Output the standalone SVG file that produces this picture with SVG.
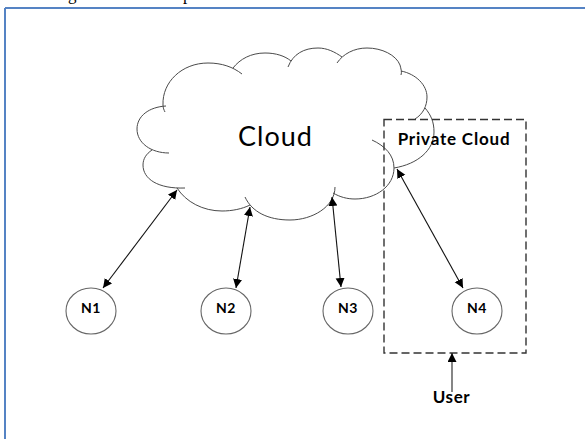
<svg xmlns="http://www.w3.org/2000/svg" width="585" height="439" viewBox="0 0 585 439">
<defs>
<marker id="a" markerUnits="userSpaceOnUse" markerWidth="10" markerHeight="10" refX="9" refY="4.5" orient="auto-start-reverse"><path d="M0 0L9 4.5L0 9Z" fill="#000"/></marker>
</defs>
<style>
.c{fill:none;stroke:#4a4a4a;stroke-width:1}
.n{fill:#fff;stroke:#666;stroke-width:1.1}
.l{stroke:#111;stroke-width:1.1;fill:none;marker-start:url(#a);marker-end:url(#a)}
text{font-family:Lato,"Open Sans",sans-serif;fill:#000}
.b{font-weight:700;font-size:14px;letter-spacing:.5px;text-anchor:middle}
.t{font-family:"Liberation Serif",serif;font-size:17px}
</style>
<rect width="585" height="439" fill="#fff"/>
<text class="t" x="68" y="0">g</text>
<text class="t" x="183" y="0">p</text>
<path d="M5 8H585M5 8V439" fill="none" stroke="#5583c4" stroke-width="2"/>
<g id="cloud">
<path class="c" d="M242 74C233 67 222 63 208 63C182 63 162 82 163 105C163 108 164 110 165 112"/>
<path class="c" d="M166 106C149 107 137 116 137 129C137 143 151 153 169 153"/>
<path class="c" d="M152 150C146 154 143 159 143 165C143 179 158 189 185 188"/>
<path class="c" d="M177 188C186 202 203 211 222 211C232 211 242 209 250 205"/>
<path class="c" d="M245 197C252 212 268 220 290 220C312 220 335 207 335 187"/>
<path class="c" d="M333 193C340 197 347 199 355 199C376 199 394 186 394 168C394 155 385 146 372 140"/>
<path class="c" d="M394 168C418 164 434 150 434 132C434 122 431 115 425 108"/>
<path class="c" d="M415 119C423 114 427 106 427 97C427 85 416 74 401 71"/>
<path class="c" d="M401 75C402 72 401 69 400 65C396 55 382 48 367 48C354 48 343 54 337 63"/>
<path class="c" d="M342 57C335 52 327 48 318 48C304 48 293 54 288 67"/>
<path class="c" d="M291 61C285 56 276 53 265 53C251 53 240 59 233 68"/>
</g>
<text id="cloud-label" x="275.500" y="146" style="font-size:27px;letter-spacing:1px;text-anchor:middle">Cloud</text>
<g id="private-cloud">
<rect x="384" y="119.500" width="142" height="233.500" fill="none" stroke="#333" stroke-width="1.4" stroke-dasharray="8 4"/>
<text x="454" y="145" style="font-weight:700;font-size:17px;letter-spacing:.8px;text-anchor:middle">Private Cloud</text>
</g>
<g id="n1"><ellipse class="n" cx="91" cy="311" rx="25" ry="23"/><text class="b" x="91" y="313">N1</text></g>
<g id="n2"><ellipse class="n" cx="226" cy="311" rx="25" ry="23"/><text class="b" x="226" y="313">N2</text></g>
<g id="n3"><ellipse class="n" cx="348" cy="311" rx="25" ry="23"/><text class="b" x="348" y="313">N3</text></g>
<g id="n4"><ellipse class="n" cx="477" cy="311" rx="25" ry="23"/><text class="b" x="477" y="313">N4</text></g>
<text id="user" x="451.500" y="403" style="font-weight:700;font-size:17px;letter-spacing:.6px;text-anchor:middle">User</text>
<g id="connectors">
<path class="l" d="M177 190L103 288"/>
<path class="l" d="M250 207L236 288"/>
<path class="l" d="M332 197L341 287"/>
<path class="l" d="M397 169L463 288"/>
<path d="M452 392V353" fill="none" stroke="#222" stroke-width="1.1" marker-end="url(#a)"/>
</g>
</svg>
